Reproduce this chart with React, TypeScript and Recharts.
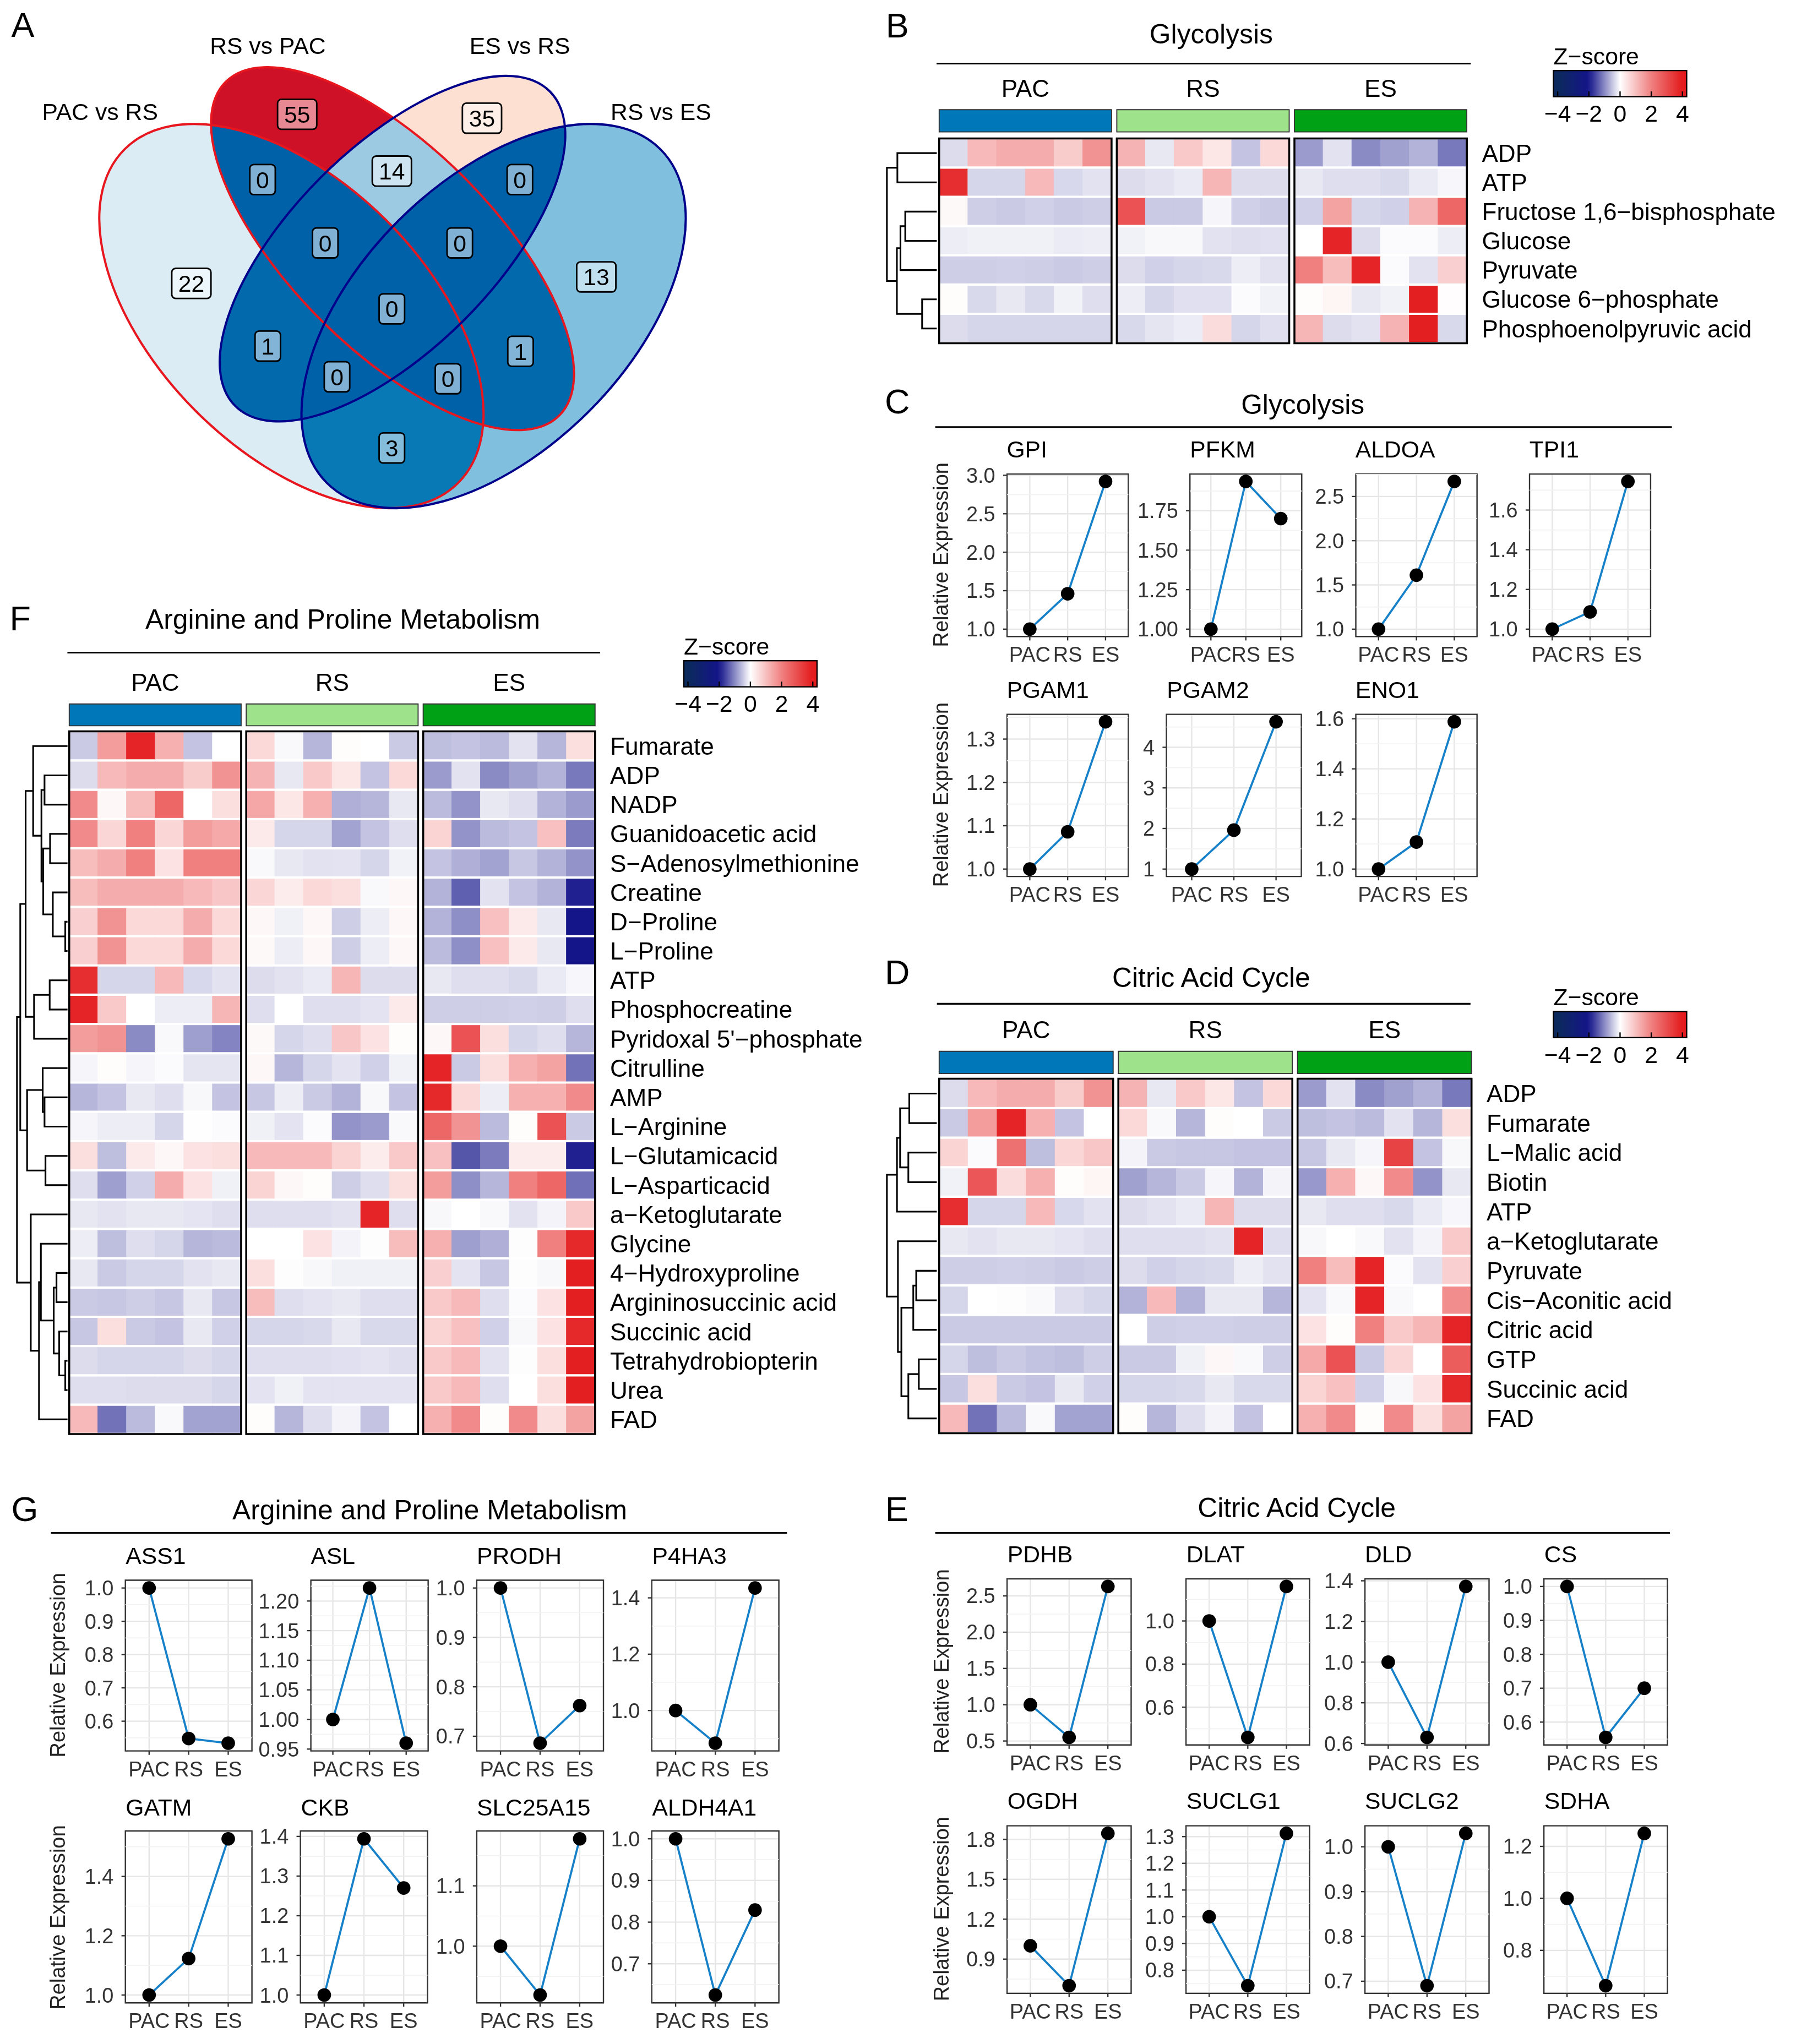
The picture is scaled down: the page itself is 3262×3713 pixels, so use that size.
import React from 'react';
import {
  ScatterChart, Scatter, XAxis, YAxis, BarChart, Bar, Cell, LineChart, Line,
  CartesianGrid, ReferenceArea, ReferenceLine,
} from 'recharts';

const FONT = '"Liberation Sans", Arial, Helvetica, sans-serif';
const PAGE_W = 1375;
const PAGE_H = 1565;
const SCALE = 3262 / PAGE_W;

// ================= DATA =================
const STAGES = ['PAC', 'RS', 'ES'];
const GROUPS = ['PAC', 'RS', 'ES'];

// ---- Venn (A) ----
const VENN_SET_NAMES = ['PAC vs RS', 'RS vs PAC', 'ES vs RS', 'RS vs ES'];
const VENN_REGION_SETS = ['1', '2', '3', '4', '23', '12', '34', '123', '234', '1234', '13', '24', '134', '124', '14'];
const VENN_COUNTS = [22, 55, 35, 13, 14, 0, 0, 0, 0, 0, 1, 1, 0, 0, 3];

// ---- Heatmap z-scores (6 PAC, 6 RS, 6 ES) ----
const Z_ADP = [-0.3, 1.1, 1.3, 1.3, 0.8, 1.7, 1.2, -0.2, 0.85, 0.4, -0.5, 0.6, -0.85, -0.25, -1.0, -0.8, -0.65, -1.15];
const Z_ATP = [3.6, -0.35, -0.35, 1.1, -0.33, -0.25, -0.3, -0.25, -0.18, 1.15, -0.3, -0.3, -0.2, -0.28, -0.28, -0.32, -0.18, -0.07];
const Z_F16BP = [0.1, -0.42, -0.45, -0.4, -0.45, -0.42, 2.9, -0.45, -0.45, -0.08, -0.4, -0.45, -0.4, 1.45, -0.35, -0.4, 1.2, 2.5];
const Z_GLUCOSE = [-0.15, -0.13, -0.13, -0.13, -0.17, -0.15, -0.12, -0.06, -0.06, -0.25, -0.28, -0.26, 0, 3.8, -0.3, -0.03, -0.03, -0.15];
const Z_PYRUVATE = [-0.42, -0.42, -0.4, -0.42, -0.45, -0.42, -0.3, -0.4, -0.35, -0.32, -0.15, -0.25, 2.0, 1.05, 3.8, -0.03, -0.25, 0.75];
const Z_G6P = [0.05, -0.32, -0.2, -0.32, -0.12, -0.28, -0.15, -0.35, -0.26, -0.26, -0.03, -0.12, 0.05, 0.15, -0.2, -0.12, 3.9, 0.03];
const Z_PEP = [-0.3, -0.35, -0.35, -0.35, -0.35, -0.35, -0.32, -0.22, -0.16, 0.55, -0.35, -0.27, 1.15, -0.3, -0.25, 1.2, 3.9, -0.32];
const Z_FUMARATE = [-0.45, 1.55, 3.8, 1.25, -0.5, 0, 0.6, -0.05, -0.62, 0.05, 0, -0.45, -0.55, -0.5, -0.58, -0.25, -0.62, 0.5];
const Z_MALIC = [0.7, -0.03, 2.3, -0.55, 0.65, 0.9, -0.1, -0.45, -0.48, -0.48, -0.5, -0.5, -0.48, -0.2, -0.08, 3.2, -0.5, -0.06];
const Z_BIOTIN = [-0.12, 2.8, 0.55, 1.25, 0.05, 0.15, -0.8, -0.62, -0.45, -0.08, -0.65, -0.1, -0.88, 1.25, 0.12, 1.85, -0.92, -0.2];
const Z_AKG = [-0.2, -0.25, -0.2, -0.2, -0.23, -0.28, -0.28, -0.28, -0.28, -0.25, 3.8, -0.28, -0.06, 0, -0.05, -0.25, -0.1, 0.85];
const Z_CIS = [-0.35, 0, -0.02, -0.05, -0.28, -0.35, -0.65, 1.1, -0.65, -0.2, -0.2, -0.62, -0.24, -0.05, 3.8, -0.05, 0, 1.8];
const Z_CITRIC = [-0.45, -0.45, -0.45, -0.45, -0.45, -0.45, 0, -0.42, -0.4, -0.4, -0.42, -0.42, 0.45, 0.05, 2.0, 0.85, 1.15, 3.8];
const Z_GTP = [-0.35, -0.55, -0.45, -0.52, -0.55, -0.42, -0.45, -0.45, -0.13, 0.12, -0.05, -0.42, 1.35, 2.9, -0.45, 0.65, 0, 2.7];
const Z_SUCC = [-0.48, 0.5, -0.45, -0.5, -0.2, -0.4, -0.35, -0.35, -0.32, -0.2, -0.32, -0.32, 0.7, 1.0, -0.4, -0.06, 0.45, 3.7];
const Z_FAD = [1.1, -1.2, -0.58, -0.05, -0.78, -0.78, 0.05, -0.62, -0.28, -0.1, -0.5, 0, 1.25, 1.85, 0.05, 1.85, 0.5, 1.45];
const Z_NADP = [1.85, 0.12, 1.05, 2.5, 0, 0.5, 1.4, 0.4, 1.25, -0.68, -0.62, -0.2, -0.58, -0.92, -0.2, -0.28, -0.65, -0.85];
const Z_GUAN = [1.85, 0.65, 2.0, 0.65, 1.55, 1.35, 0.35, -0.35, -0.35, -0.78, -0.5, -0.28, 0.7, -0.92, -0.58, -0.5, 1.0, -1.12];
const Z_SAM = [1.05, 1.3, 2.0, 0.45, 2.0, 2.0, -0.05, -0.2, -0.25, -0.24, -0.35, -0.12, -0.5, -0.68, -0.78, -0.48, -0.65, -0.92];
const Z_CREATINE = [1.05, 1.3, 1.3, 1.3, 1.1, 0.9, 0.65, 0.3, 0.6, 0.5, -0.05, 0.12, -0.65, -1.35, -0.25, -0.5, -0.65, -1.9];
const Z_DPRO = [0.75, 1.7, 0.6, 0.6, 1.3, 0.6, 0.12, -0.13, 0.12, -0.42, -0.15, 0.12, -0.65, -0.95, 1.0, 0.35, -0.2, -2.1];
const Z_LPRO = [0.75, 1.7, 0.6, 0.6, 1.3, 0.6, 0.1, -0.15, 0.12, -0.42, -0.15, 0.12, -0.58, -0.95, 1.0, 0.35, -0.2, -2.1];
const Z_PCR = [3.8, 0.85, 0, -0.15, -0.15, 1.15, -0.28, 0, -0.28, -0.28, -0.24, 0.35, -0.42, -0.42, -0.42, -0.4, -0.42, -0.28];
const Z_PLP = [1.55, 1.7, -1.0, -0.05, -0.82, -1.05, 0.1, -0.35, -0.28, 0.9, 0.45, 0.05, 0.12, 2.9, 0.5, -0.35, -0.28, -0.62];
const Z_CIT = [-0.08, 0.05, -0.08, -0.03, -0.22, -0.22, 0.12, -0.62, -0.35, -0.24, -0.4, -0.12, 3.8, -0.45, 0.5, 1.25, 1.45, -1.2];
const Z_AMP = [-0.62, -0.5, -0.2, -0.28, -0.06, -0.5, -0.48, -0.15, -0.45, -0.65, -0.06, -0.5, 3.7, 0.6, -0.15, 1.25, 1.25, 1.85];
const Z_ARG = [-0.08, -0.15, -0.15, -0.35, -0.01, -0.03, -0.13, -0.24, -0.03, -0.92, -0.85, -0.05, 2.5, 1.7, -0.58, 0.05, 2.9, -0.45];
const Z_GLU = [0.5, -0.55, 0.35, 0.12, 0.45, 0.5, 1.1, 1.1, 1.1, 0.7, 0.3, 0.85, 1.0, -1.45, -1.12, 0.3, 0.3, -1.9];
const Z_ASP = [-0.28, -0.82, -0.4, 1.3, 0.45, -0.13, 0.7, 0.12, 0.05, -0.42, -0.28, 0.5, 1.55, -0.95, -0.62, 2.0, 2.5, -1.22];
const Z_GLY = [-0.15, -0.55, -0.28, -0.35, -0.62, -0.58, 0, 0, 0.45, -0.1, -0.02, 1.05, 1.25, -0.82, -0.68, -0.02, 2.0, 3.7];
const Z_HYP = [-0.2, -0.45, -0.35, -0.35, -0.25, -0.2, 0.5, -0.02, -0.06, -0.13, -0.13, -0.13, 0.75, -0.24, -0.48, -0.02, -0.06, 3.9];
const Z_ASA = [-0.45, -0.48, -0.42, -0.48, -0.2, -0.48, 1.05, -0.28, -0.24, -0.2, -0.28, -0.28, 0.85, 1.1, -0.28, -0.03, 0.45, 3.9];
const Z_THB = [-0.3, -0.35, -0.35, -0.35, -0.3, -0.35, -0.28, -0.28, -0.28, -0.26, -0.24, -0.28, 0.85, 1.1, -0.25, -0.02, 0.5, 3.9];
const Z_UREA = [-0.28, -0.28, -0.3, -0.3, -0.3, -0.35, -0.24, -0.13, -0.24, -0.24, -0.24, -0.24, 0.85, 1.1, -0.28, 0, 0.5, 3.9];

// ---- B: Glycolysis heatmap ----
const GLY_ROWS = ['ADP', 'ATP', 'Fructose 1,6\u2212bisphosphate', 'Glucose', 'Pyruvate', 'Glucose 6\u2212phosphate', 'Phosphoenolpyruvic acid'];
const GLY_Z = [Z_ADP, Z_ATP, Z_F16BP, Z_GLUCOSE, Z_PYRUVATE, Z_G6P, Z_PEP];
const GLY_TREE = [[0, 1, 0.79], [2, 3, 0.632], [8, 4, 0.728], [5, 6, 0.294], [9, 10, 0.8], [7, 11, 1.0]];

// ---- D: Citric acid cycle heatmap ----
const TCA_ROWS = ['ADP', 'Fumarate', 'L\u2212Malic acid', 'Biotin', 'ATP', 'a\u2212Ketoglutarate', 'Pyruvate', 'Cis\u2212Aconitic acid', 'Citric acid', 'GTP', 'Succinic acid', 'FAD'];
const TCA_Z = [Z_ADP, Z_FUMARATE, Z_MALIC, Z_BIOTIN, Z_ATP, Z_AKG, Z_PYRUVATE, Z_CIS, Z_CITRIC, Z_GTP, Z_SUCC, Z_FAD];
const TCA_TREE = [[0, 1, 0.551], [2, 3, 0.57], [12, 13, 0.735], [14, 4, 0.798], [6, 7, 0.412], [16, 8, 0.471], [9, 10, 0.36], [18, 11, 0.57], [17, 19, 0.71], [5, 20, 0.779], [15, 21, 1.0]];

// ---- F: Arginine and proline heatmap ----
const ARG_ROWS = ['Fumarate', 'ADP', 'NADP', 'Guanidoacetic acid', 'S\u2212Adenosylmethionine', 'Creatine', 'D\u2212Proline', 'L\u2212Proline', 'ATP', 'Phosphocreatine', "Pyridoxal 5'\u2212phosphate", 'Citrulline', 'AMP', 'L\u2212Arginine', 'L\u2212Glutamicacid', 'L\u2212Asparticacid', 'a\u2212Ketoglutarate', 'Glycine', '4\u2212Hydroxyproline', 'Argininosuccinic acid', 'Succinic acid', 'Tetrahydrobiopterin', 'Urea', 'FAD'];
const ARG_Z = [Z_FUMARATE, Z_ADP, Z_NADP, Z_GUAN, Z_SAM, Z_CREATINE, Z_DPRO, Z_LPRO, Z_ATP, Z_PCR, Z_PLP, Z_CIT, Z_AMP, Z_ARG, Z_GLU, Z_ASP, Z_AKG, Z_GLY, Z_HYP, Z_ASA, Z_SUCC, Z_THB, Z_UREA, Z_FAD];
const ARG_TREE = [[1, 2, 0.455], [3, 4, 0.345], [6, 7, 0.044], [5, 26, 0.291], [25, 27, 0.48], [24, 28, 0.516], [0, 29, 0.68], [8, 9, 0.353], [31, 10, 0.662], [30, 32, 0.829], [12, 13, 0.455], [11, 34, 0.491], [14, 15, 0.436], [35, 36, 0.8], [33, 37, 0.935], [18, 19, 0.218], [21, 22, 0.044], [20, 40, 0.164], [39, 41, 0.273], [17, 42, 0.527], [43, 23, 0.564], [16, 44, 0.727], [38, 45, 1.0]];

// ---- C: Glycolysis gene expression ----
const GLY_GENES = ['GPI', 'PFKM', 'ALDOA', 'TPI1', 'PGAM1', 'PGAM2', 'ENO1'];
const GLY_VALUES = [[1, 1.46, 2.92], [1, 1.935, 1.70], [1, 1.61, 2.67], [1, 1.087, 1.744], [1, 1.086, 1.34], [1, 1.96, 4.63], [1, 1.108, 1.588]];
const GLY_TICKS = [['1.0', '1.5', '2.0', '2.5', '3.0'], ['1.00', '1.25', '1.50', '1.75'], ['1.0', '1.5', '2.0', '2.5'], ['1.0', '1.2', '1.4', '1.6'], ['1.0', '1.1', '1.2', '1.3'], ['1', '2', '3', '4'], ['1.0', '1.2', '1.4', '1.6']];

// ---- E: Citric acid cycle gene expression ----
const TCA_GENES = ['PDHB', 'DLAT', 'DLD', 'CS', 'OGDH', 'SUCLG1', 'SUCLG2', 'SDHA'];
const TCA_VALUES = [[1, 0.55, 2.63], [1, 0.46, 1.16], [1, 0.63, 1.372], [1, 0.555, 0.70], [1, 0.70, 1.845], [1, 0.742, 1.312], [1, 0.69, 1.03], [1, 0.664, 1.25]];
const TCA_TICKS = [['0.5', '1.0', '1.5', '2.0', '2.5'], ['0.6', '0.8', '1.0'], ['0.6', '0.8', '1.0', '1.2', '1.4'], ['0.6', '0.7', '0.8', '0.9', '1.0'], ['0.9', '1.2', '1.5', '1.8'], ['0.8', '0.9', '1.0', '1.1', '1.2', '1.3'], ['0.7', '0.8', '0.9', '1.0'], ['0.8', '1.0', '1.2']];

// ---- G: Arginine and proline gene expression ----
const ARG_GENES = ['ASS1', 'ASL', 'PRODH', 'P4HA3', 'GATM', 'CKB', 'SLC25A15', 'ALDH4A1'];
const ARG_VALUES = [[1, 0.548, 0.534], [1, 1.222, 0.96], [1, 0.686, 0.762], [1, 0.884, 1.435], [1, 1.123, 1.527], [1, 1.394, 1.27], [1, 0.919, 1.178], [1, 0.625, 0.829]];
const ARG_TICKS = [['0.6', '0.7', '0.8', '0.9', '1.0'], ['0.95', '1.00', '1.05', '1.10', '1.15', '1.20'], ['0.7', '0.8', '0.9', '1.0'], ['1.0', '1.2', '1.4'], ['1.0', '1.2', '1.4'], ['1.0', '1.1', '1.2', '1.3', '1.4'], ['1.0', '1.1'], ['0.7', '0.8', '0.9', '1.0']];

// ================= LAYOUT / STYLE =================
const VENN_W = 680;
const VENN_H = 410;
const VENN_ELLIPSES = [
  { x: 223.1, y: 242.0, rx: 180.6, ry: 103.2, rot: 45, stroke: '#e8161e' },
  { x: 300.5, y: 190.4, rx: 180.6, ry: 77.4, rot: 45, stroke: '#e8161e' },
  { x: 300.5, y: 190.4, rx: 170.3, ry: 77.4, rot: -45, stroke: '#00008b' },
  { x: 377.9, y: 242.0, rx: 180.6, ry: 103.2, rot: -45, stroke: '#00008b' },
];
const VENN_LABEL_POS = [[146.5, 217], [227.5, 87.5], [369, 90.5], [456.5, 212], [300, 131], [201, 137.5], [398, 137.5], [249, 186], [352, 186], [300, 236.5], [205, 265], [398.5, 269], [258, 288.5], [343, 290], [300, 343]];
const VENN_SET_POS = [[76.6, 85.6], [205, 34.8], [398, 34.8], [506, 85.6]];

const GROUP_COLORS = ['#0077b8', '#9ee28b', '#00a115'];
const LINE_COLOR = '#1680c8';
const ROW_FONT = 18.6;

const C_BOXES = [[770.7, 362.6, 863.5, 487], [911, 362.6, 996.6, 487], [1037.7, 362.6, 1130.5, 487], [1170.9, 362.6, 1263.6, 487], [770.7, 546.5, 863.5, 670.6], [893.3, 546.5, 996.6, 670.6], [1037.7, 546.5, 1130.5, 670.6]];
const E_BOXES = [[771.3, 1208.6, 866.3, 1335.7], [908.3, 1208.6, 1002.9, 1335.7], [1044.9, 1208.6, 1139.9, 1335.7], [1182.3, 1208.6, 1276.9, 1335.7], [771.3, 1397.5, 866.3, 1525.8], [908.3, 1397.5, 1002.9, 1525.8], [1044.9, 1397.5, 1139.9, 1525.8], [1182.3, 1397.5, 1276.9, 1525.8]];
const G_BOXES = [[96.2, 1209.6, 193.1, 1340.3], [237.9, 1209.6, 327.7, 1340.3], [365, 1209.6, 462, 1340.3], [499.3, 1209.6, 596.6, 1340.3], [96.2, 1402.4, 193.1, 1534], [230.4, 1402.4, 327.7, 1534], [365, 1402.4, 462, 1534], [499.3, 1402.4, 596.6, 1534]];

// ================= COLOR HELPERS =================
function hexToRgb(h: string) {
  const n = parseInt(h.slice(1), 16);
  return [(n >> 16) & 255, (n >> 8) & 255, n & 255];
}
function rampColor(stops: [number, string][], v: number) {
  if (v <= stops[0][0]) return stops[0][1];
  const last = stops[stops.length - 1];
  if (v >= last[0]) return last[1];
  for (let i = 0; i < stops.length - 1; i++) {
    const [a, ca] = stops[i];
    const [b, cb] = stops[i + 1];
    if (v >= a && v <= b) {
      const t = (v - a) / (b - a);
      const A = hexToRgb(ca);
      const B = hexToRgb(cb);
      const c = A.map((x, k) => Math.round(x + (B[k] - x) * t));
      return `rgb(${c[0]},${c[1]},${c[2]})`;
    }
  }
  return last[1];
}
const Z_STOPS: [number, string][] = [[-4, '#0c2a5c'], [-2, '#14148a'], [0, '#ffffff'], [2, '#f08080'], [4, '#e31a1c']];
const zColor = (v: number) => rampColor(Z_STOPS, v);
const VENN_STOPS: [number, string][] = [[0, '#0061a8'], [3, '#0979b6'], [13, '#80bfde'], [14, '#9ccae2'], [22, '#dbecf5'], [35, '#fde0d2'], [55, '#ce1126']];
const vennColor = (v: number) => rampColor(VENN_STOPS, v);

const emptyShape = () => <g />;

// ================= VENN =================
const defsShape = (p: any) => {
  const e = p.payload;
  const el = (fill: string) => (
    <ellipse cx={p.cx} cy={p.cy} rx={e.rx} ry={e.ry} fill={fill} transform={`rotate(${e.rot} ${p.cx} ${p.cy})`} />
  );
  return (
    <defs>
      <clipPath id={`vclip${e.idx}`}>{el('#000')}</clipPath>
      <mask id={`vmask${e.idx}`} maskUnits="userSpaceOnUse" x={0} y={0} width={VENN_W} height={VENN_H}>
        <rect x={0} y={0} width={VENN_W} height={VENN_H} fill="#fff" />
        {el('#000')}
      </mask>
    </defs>
  );
};
const regionShape = (p: any) => {
  const code: string = p.payload.code;
  let node: any = <rect x={0} y={0} width={VENN_W} height={VENN_H} fill={vennColor(p.payload.count)} />;
  for (let i = 0; i < 4; i++) {
    const inSet = code.includes(String(i + 1));
    node = inSet ? <g clipPath={`url(#vclip${i})`}>{node}</g> : <g mask={`url(#vmask${i})`}>{node}</g>;
  }
  return <g>{node}</g>;
};
const outlineShape = (p: any) => {
  const e = p.payload;
  return (
    <ellipse cx={p.cx} cy={p.cy} rx={e.rx} ry={e.ry} fill="none" stroke={e.stroke} strokeWidth={1.7}
      transform={`rotate(${e.rot} ${p.cx} ${p.cy})`} />
  );
};
const countShape = (p: any) => {
  const s = String(p.payload.count);
  const w = 9 + s.length * 10.5;
  return (
    <g>
      <rect x={p.cx - w / 2} y={p.cy - 11.5} width={w} height={23} rx={3} ry={3} fill="rgba(255,255,255,0.5)" stroke="#000" strokeWidth={1.2} />
      <text x={p.cx} y={p.cy} dy="0.36em" textAnchor="middle" fontSize={18} fill="#000">{s}</text>
    </g>
  );
};
const setLabelShape = (p: any) => (
  <text x={p.cx} y={p.cy} dy="0.36em" textAnchor="middle" fontSize={18} fill="#000">{p.payload.name}</text>
);

function Venn() {
  const ellData = VENN_ELLIPSES.map((e, i) => ({ ...e, idx: i }));
  const regionData = VENN_REGION_SETS.map((code, i) => ({ code, count: VENN_COUNTS[i], x: VENN_LABEL_POS[i][0], y: VENN_LABEL_POS[i][1] }));
  const setData = VENN_SET_NAMES.map((name, i) => ({ name, x: VENN_SET_POS[i][0], y: VENN_SET_POS[i][1] }));
  return (
    <ScatterChart width={VENN_W} height={VENN_H} margin={{ top: 0, right: 0, bottom: 0, left: 0 }}>
      <XAxis type="number" dataKey="x" domain={[0, VENN_W]} hide />
      <YAxis type="number" dataKey="y" domain={[0, VENN_H]} reversed hide />
      <Scatter data={ellData} shape={defsShape} isAnimationActive={false} />
      <Scatter data={regionData} shape={regionShape} isAnimationActive={false} />
      <Scatter data={ellData} shape={outlineShape} isAnimationActive={false} />
      <Scatter data={regionData} shape={countShape} isAnimationActive={false} />
      <Scatter data={setData} shape={setLabelShape} isAnimationActive={false} />
    </ScatterChart>
  );
}

// ================= DENDROGRAM =================
function Dendrogram({ n, merges, width, rowH }: any) {
  const ys: number[] = [];
  const hs: number[] = [];
  for (let i = 0; i < n; i++) { ys.push(i + 0.5); hs.push(0); }
  const segs = merges.map(([a, b, h]: number[]) => {
    const pts = [{ x: hs[a], y: ys[a] }, { x: h, y: ys[a] }, { x: h, y: ys[b] }, { x: hs[b], y: ys[b] }];
    ys.push((ys[a] + ys[b]) / 2);
    hs.push(h);
    return pts;
  });
  return (
    <ScatterChart width={width} height={n * rowH + 4} margin={{ top: 2, right: 0, bottom: 2, left: 2 }}>
      <XAxis type="number" dataKey="x" domain={[0, 1]} reversed hide />
      <YAxis type="number" dataKey="y" domain={[0, n]} reversed hide />
      {segs.map((pts: any, k: number) => (
        <Scatter key={k} data={pts} line={{ stroke: '#000', strokeWidth: 1.3 }} lineType="joint" shape={emptyShape} isAnimationActive={false} />
      ))}
    </ScatterChart>
  );
}

// ================= HEATMAP =================
const CELL_KEYS = ['c0', 'c1', 'c2', 'c3', 'c4', 'c5', 'g1', 'c6', 'c7', 'c8', 'c9', 'c10', 'c11', 'g2', 'c12', 'c13', 'c14', 'c15', 'c16', 'c17'];

function Heatmap({ rows, z, tree, left, top, blockW, gapPx, rowH, labelW, annH, dendroW }: any) {
  const cellW = blockW / 6;
  const g = gapPx / cellW;
  const total = 18 + 2 * g;
  const width = 3 * blockW + 2 * gapPx;
  const height = rows.length * rowH;
  const data = rows.map((name: string) => {
    const o: any = { name, g1: g, g2: g };
    for (let j = 0; j < 18; j++) o['c' + j] = 1;
    return o;
  });
  const blocks = [[0, 6], [6 + g, 12 + g], [12 + 2 * g, 18 + 2 * g]];
  const AX_H = 30;
  const M = 2;
  const annTop = top - 3.5 - annH;
  return (
    <>
      <div style={{ position: 'absolute', left: left - M, top: annTop - AX_H }}>
        <BarChart layout="vertical" width={width + 2 * M} height={AX_H + annH + M}
          data={[{ name: 'group', PAC: 6, g1: g, RS: 6, g2: g, ES: 6 }]}
          margin={{ top: 0, right: M, bottom: M, left: M }} barCategoryGap={0} barSize={annH}>
          <XAxis type="number" orientation="top" domain={[0, total]} ticks={[3, 9 + g, 15 + 2 * g]}
            tickFormatter={(_v: any, i: number) => GROUPS[i]} interval={0} tickLine={false} axisLine={false}
            tickSize={0} tickMargin={9} height={AX_H} tick={{ fontSize: ROW_FONT, fill: '#000' }} />
          <YAxis type="category" dataKey="name" hide />
          <Bar dataKey="PAC" stackId="a" fill={GROUP_COLORS[0]} stroke="#333" strokeWidth={0.8} isAnimationActive={false} />
          <Bar dataKey="g1" stackId="a" fill="transparent" isAnimationActive={false} />
          <Bar dataKey="RS" stackId="a" fill={GROUP_COLORS[1]} stroke="#333" strokeWidth={0.8} isAnimationActive={false} />
          <Bar dataKey="g2" stackId="a" fill="transparent" isAnimationActive={false} />
          <Bar dataKey="ES" stackId="a" fill={GROUP_COLORS[2]} stroke="#333" strokeWidth={0.8} isAnimationActive={false} />
        </BarChart>
      </div>
      <div style={{ position: 'absolute', left: left - 1.3 - dendroW - 2, top: top - 2 }}>
        <Dendrogram n={rows.length} merges={tree} width={dendroW + 2} rowH={rowH} />
      </div>
      <div style={{ position: 'absolute', left: left - M, top: top - M }}>
        <BarChart layout="vertical" width={width + labelW + M} height={height + 2 * M} data={data}
          margin={{ top: M, right: 0, bottom: M, left: M }} barCategoryGap={0} barGap={0} barSize={rowH}>
          <XAxis type="number" domain={[0, total]} hide />
          <YAxis type="category" dataKey="name" orientation="right" width={labelW} tickLine={false}
            axisLine={false} tickSize={0} tickMargin={11.5} interval={0} tick={{ fontSize: ROW_FONT, fill: '#000' }} />
          {CELL_KEYS.map((k) =>
            k.startsWith('g') ? (
              <Bar key={k} dataKey={k} stackId="s" fill="transparent" isAnimationActive={false} />
            ) : (
              <Bar key={k} dataKey={k} stackId="s" isAnimationActive={false}>
                {z.map((row: number[], r: number) => {
                  const c = zColor(row[Number(k.slice(1))]);
                  return <Cell key={r} fill={c} stroke={c} strokeWidth={0.5} />;
                })}
              </Bar>
            ),
          )}
          {blocks.map(([a, b], i) => (
            <ReferenceArea key={i} x1={a} x2={b} fill="none" stroke="#000" strokeWidth={1.5} ifOverflow="visible" zIndex={1000} />
          ))}
        </BarChart>
      </div>
    </>
  );
}

// ================= LINE PANELS =================
function MiniPanel({ values, ticks, box }: any) {
  const [x0, y0, x1, y1] = box;
  const YW = 50, XH = 26, MR = 6, MT = 8;
  const plotW = x1 - x0;
  const plotH = y1 - y0;
  const lo = Math.min(...values);
  const hi = Math.max(...values);
  const r = hi - lo;
  const dom = [lo - 0.05 * r, hi + 0.05 * r];
  const tv = ticks.map(Number);
  const step = tv[1] - tv[0];
  const minors = [tv[0] - step / 2, ...tv.map((t: number) => t + step / 2)].filter((m) => m > dom[0] && m < dom[1]);
  const data = STAGES.map((s, i) => ({ pos: i + 1, stage: s, value: values[i] }));
  return (
    <div style={{ position: 'absolute', left: x0 - YW, top: y0 - MT }}>
      <LineChart width={YW + plotW + MR} height={MT + plotH + XH} data={data} margin={{ top: MT, right: MR, bottom: 0, left: 0 }}>
        <CartesianGrid stroke="#e6e6e6" strokeWidth={1} />
        {minors.map((m) => (
          <ReferenceLine key={m} y={m} stroke="#f2f2f2" strokeWidth={0.7} />
        ))}
        <XAxis type="number" dataKey="pos" domain={[0.4, 3.6]} ticks={[1, 2, 3]} interval={0}
          tickFormatter={(v: number) => STAGES[Math.round(v) - 1]} axisLine={false} tickSize={3} tickMargin={5}
          height={XH} tick={{ fontSize: 16, fill: '#333' }} tickLine={{ stroke: '#333' }} />
        <YAxis type="number" domain={dom} ticks={tv} interval={0}
          tickFormatter={(v: number) => { const k = tv.indexOf(v); return k >= 0 ? ticks[k] : String(v); }}
          axisLine={false} tickSize={3} tickMargin={6} width={YW} tick={{ fontSize: 16, fill: '#333' }} tickLine={{ stroke: '#333' }} />
        <ReferenceArea x1={0.4} x2={3.6} y1={dom[0]} y2={dom[1]} fill="none" stroke="#333" strokeWidth={1} ifOverflow="visible" />
        <Line type="linear" dataKey="value" stroke={LINE_COLOR} strokeWidth={1.6}
          dot={{ r: 5.2, fill: '#000', stroke: '#000', strokeWidth: 0 }} isAnimationActive={false} />
      </LineChart>
    </div>
  );
}

// ================= OVERLAY (titles, legends) =================
function ZLegend({ id, x, y }: any) {
  const w = 102, h = 20, ext = 4.27;
  const stops = [];
  for (let k = 0; k <= 24; k++) {
    const v = -ext + (2 * ext * k) / 24;
    stops.push(<stop key={k} offset={`${(k / 24) * 100}%`} stopColor={zColor(v)} />);
  }
  return (
    <g>
      <defs>
        <linearGradient id={id} x1="0" x2="1" y1="0" y2="0">{stops}</linearGradient>
      </defs>
      <text x={x} y={y - 11} dy="0.35em" fontSize={18}>Z{'\u2212'}score</text>
      <rect x={x} y={y} width={w} height={h} fill={`url(#${id})`} stroke="#000" strokeWidth={1} />
      {[-4, -2, 0, 2, 4].map((t) => {
        const px = x + (w * (t + ext)) / (2 * ext);
        return (
          <g key={t}>
            <line x1={px} x2={px} y1={y + h - 4} y2={y + h} stroke="#000" strokeWidth={1} />
            <text x={px} y={y + h + 13} dy="0.35em" textAnchor="middle" fontSize={18}>{t < 0 ? `\u2212${-t}` : String(t)}</text>
          </g>
        );
      })}
    </g>
  );
}

const LETTERS: [string, number, number][] = [['A', 17.5, 18.5], ['B', 687, 19], ['C', 687, 307], ['D', 687, 744], ['E', 686.5, 1155], ['F', 15.5, 473], ['G', 19, 1155]];
const TITLES: [string, number, number, number, number, number][] = [
  ['Glycolysis', 927.3, 25.8, 717, 1126, 48.7],
  ['Glycolysis', 997.4, 309.3, 716, 1280, 327],
  ['Citric Acid Cycle', 927.3, 748.3, 717.3, 1125.8, 768.6],
  ['Citric Acid Cycle', 992.7, 1154, 716, 1278.5, 1173.7],
  ['Arginine and Proline Metabolism', 262.4, 474, 51.6, 459.5, 499.7],
  ['Arginine and Proline Metabolism', 329, 1156, 39, 602.5, 1173.7],
];
const YTITLES: [number, number][] = [[720, 424.8], [720, 608.5], [720.7, 1272.2], [720.7, 1461.7], [44, 1275], [44, 1468.2]];

function Overlay({ genes }: any) {
  return (
    <svg width={PAGE_W} height={PAGE_H} style={{ position: 'absolute', left: 0, top: 0, pointerEvents: 'none' }}>
      {LETTERS.map(([t, x, y]) => (
        <text key={t} x={x} y={y} dy="0.36em" textAnchor="middle" fontSize={26.5}>{t}</text>
      ))}
      {TITLES.map(([t, x, y, lx0, lx1, ly], i) => (
        <g key={i}>
          <text x={x} y={y} dy="0.36em" textAnchor="middle" fontSize={21}>{t}</text>
          <line x1={lx0} x2={lx1} y1={ly} y2={ly} stroke="#000" strokeWidth={1.3} />
        </g>
      ))}
      {YTITLES.map(([x, y], i) => (
        <text key={i} x={x} y={y} dy="0.36em" textAnchor="middle" fontSize={16} fill="#222" transform={`rotate(-90 ${x} ${y})`}>Relative Expression</text>
      ))}
      {genes.map(([name, box]: any, i: number) => (
        <text key={i} x={box[0]} y={box[1] - 18.7} dy="0.36em" fontSize={18}>{name}</text>
      ))}
      <ZLegend id="zgB" x={1189.3} y={54} />
      <ZLegend id="zgD" x={1189.3} y={774.5} />
      <ZLegend id="zgF" x={523.5} y={505.9} />
    </svg>
  );
}

// ================= APP =================
export default function App() {
  const panels = [
    ...GLY_GENES.map((g, i) => ({ gene: g, values: GLY_VALUES[i], ticks: GLY_TICKS[i], box: C_BOXES[i] })),
    ...TCA_GENES.map((g, i) => ({ gene: g, values: TCA_VALUES[i], ticks: TCA_TICKS[i], box: E_BOXES[i] })),
    ...ARG_GENES.map((g, i) => ({ gene: g, values: ARG_VALUES[i], ticks: ARG_TICKS[i], box: G_BOXES[i] })),
  ];
  return (
    <div style={{ position: 'absolute', left: 0, top: 0, width: 3262, height: 3713, overflow: 'hidden', background: '#fff' }}>
      <style>{'svg{overflow:visible}'}</style>
      <div style={{ position: 'absolute', left: 0, top: 0, width: PAGE_W, height: PAGE_H, transform: `scale(${SCALE})`, transformOrigin: '0 0', fontFamily: FONT, color: '#000' }}>
        <div style={{ position: 'absolute', left: 0, top: 0 }}>
          <Venn />
        </div>
        <Heatmap rows={GLY_ROWS} z={GLY_Z} tree={GLY_TREE} left={718.7} top={105.8} blockW={132} gapPx={4} rowH={22.4} labelW={250} annH={18.9} dendroW={38.2} />
        <Heatmap rows={TCA_ROWS} z={TCA_Z} tree={TCA_TREE} left={718.7} top={825.9} blockW={133.2} gapPx={4} rowH={22.62} labelW={240} annH={18.9} dendroW={38.2} />
        <Heatmap rows={ARG_ROWS} z={ARG_Z} tree={ARG_TREE} left={52.5} top={560.1} blockW={131.6} gapPx={3.9} rowH={22.42} labelW={215} annH={18.6} dendroW={38.7} />
        {panels.map((p, i) => (
          <MiniPanel key={i} values={p.values} ticks={p.ticks} box={p.box} />
        ))}
        <Overlay genes={panels.map((p) => [p.gene, p.box])} />
      </div>
    </div>
  );
}
